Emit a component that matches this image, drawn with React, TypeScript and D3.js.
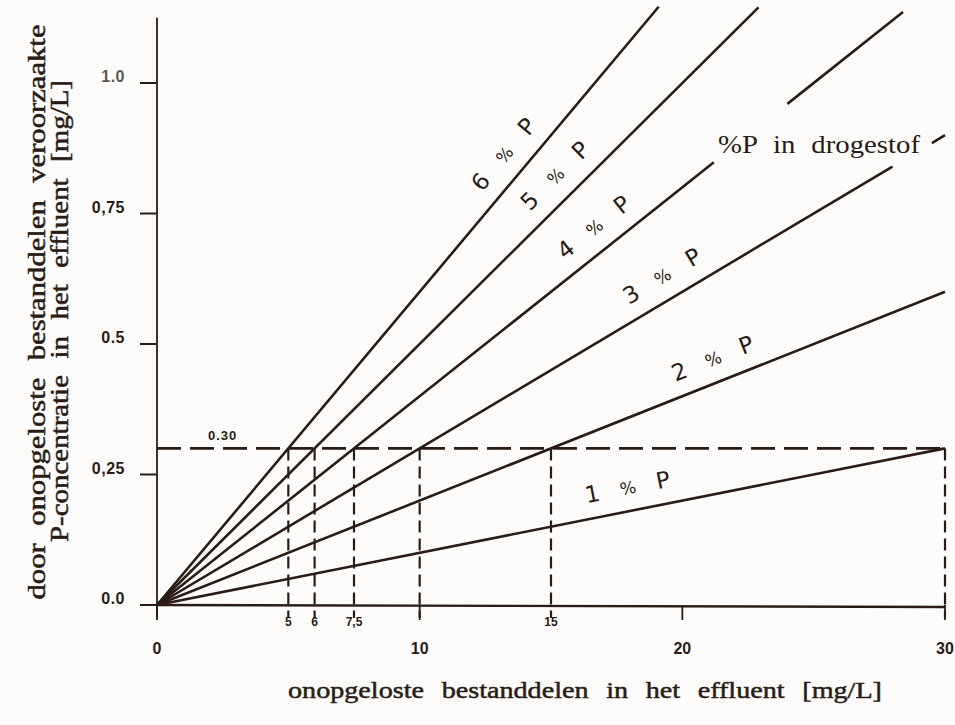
import React from "react";
import * as d3 from "d3";

// ---- data ----
const xTicks = [0, 10, 20, 30];
const xTickLabels = ["0", "10", "20", "30"];
const yTicks = [0, 0.25, 0.5, 0.75, 1.0];
const yTickLabels = ["0.0", "0,25", "0.5", "0,75", "1.0"];
const percents = [1, 2, 3, 4, 5, 6];
const lineEndX = [30, 30, 28.0, 21.2, 22.9, 19.1];
const labelCenterX = [18.1, 21.5, 19.7, 17.2, 15.8, 13.9];
const extraSegPct = [4, 3];
const extraSegStart = [24.0, 29.5];
const extraSegEnd = [28.4, 30.0];
const refConcentration = 0.3;
const refX = [5, 6, 7.5, 10, 15, 30];
const refXLabels = ["5", "6", "7,5", "", "15", ""];
const refYLabel = "0.30";
const yTitle1 = "door onopgeloste bestanddelen veroorzaakte";
const yTitle2 = "P-concentratie in het effluent [mg/L]";
const xTitle = "onopgeloste bestanddelen in het effluent [mg/L]";
const legendNote = "%P in drogestof";

const INK = "#2a1c15";
const W = 955;
const H = 725;

export default function App() {
  const x = d3.scaleLinear().domain([0, 30]).range([157, 945]);
  const y = d3.scaleLinear().domain([0, 1]).range([605, 83]);
  const line = d3
    .line<[number, number]>()
    .x((d) => x(d[0]))
    .y((d) => y(d[1]));

  const sans = "'Liberation Sans', Arial, sans-serif";
  const serif = "'Liberation Serif', 'Times New Roman', serif";
  const hand = "'DejaVu Sans', sans-serif";

  return (
    <div style={{ position: "absolute", left: 0, top: 0 }}>
      <svg width={W} height={H} viewBox={`0 0 ${W} ${H}`} style={{ display: "block", background: "#fdfcfa" }}>
        <rect x={0} y={0} width={W} height={H} fill="#fdfcfa" />

        {/* y axis */}
        <line x1={x(0)} x2={x(0)} y1={y(1.125)} y2={y(-0.025)} stroke={INK} strokeWidth={1.8} />
        {yTicks.map((t, i) => (
          <g key={"yt" + i}>
            <line x1={x(0) - 17} x2={x(0)} y1={y(t)} y2={y(t)} stroke={INK} strokeWidth={2} />
            <text
              x={x(0) - 32}
              y={y(t) - 1}
              textAnchor="end"
              fontFamily={sans}
              fontWeight="bold"
              fontSize={16}
              letterSpacing={0.5}
              fill={INK}
              opacity={t === 1 ? 0.75 : 1}
            >
              {yTickLabels[i]}
            </text>
          </g>
        ))}

        {/* x axis */}
        <line x1={x(0)} x2={x(30)} y1={y(0)} y2={y(0) + 2} stroke={INK} strokeWidth={2.4} />
        {xTicks.map((t, i) => (
          <g key={"xt" + i}>
            <line x1={x(t)} x2={x(t)} y1={y(0)} y2={y(0) + 15} stroke={INK} strokeWidth={1.8} />
            <text
              x={x(t)}
              y={y(0) + 49}
              textAnchor="middle"
              fontFamily={sans}
              fontWeight="bold"
              fontSize={16}
              fill={INK}
            >
              {xTickLabels[i]}
            </text>
          </g>
        ))}

        {/* reference dashed lines */}
        <line
          x1={x(0)}
          x2={x(30)}
          y1={y(refConcentration)}
          y2={y(refConcentration)}
          stroke={INK}
          strokeWidth={2.8}
          strokeDasharray="24 9"
        />
        <text x={x(2.5)} y={y(refConcentration) - 8} textAnchor="middle" fontFamily={sans} fontWeight="bold" fontSize={13} fill={INK} letterSpacing={1}>
          {refYLabel}
        </text>
        {refX.map((v, i) => (
          <g key={"rx" + i}>
            <line
              x1={x(v)}
              x2={x(v)}
              y1={y(refConcentration)}
              y2={y(-0.025)}
              stroke={INK}
              strokeWidth={2.2}
              strokeDasharray="12 6"
            />
            {refXLabels[i] && (
              <text x={x(v)} y={y(0) + 21} textAnchor="middle" fontFamily={sans} fontWeight="bold" fontSize={12} fill={INK}>
                {refXLabels[i]}
              </text>
            )}
          </g>
        ))}

        {/* percentage lines */}
        {percents.map((p, i) => (
          <path
            key={"l" + p}
            d={line([
              [0, 0],
              [lineEndX[i], (p / 100) * lineEndX[i]],
            ]) as string}
            fill="none"
            stroke={INK}
            strokeWidth={2.6}
          />
        ))}
        {extraSegPct.map((p, i) => (
          <path
            key={"e" + i}
            d={line([
              [extraSegStart[i], (p / 100) * extraSegStart[i]],
              [extraSegEnd[i], (p / 100) * extraSegEnd[i]],
            ]) as string}
            fill="none"
            stroke={INK}
            strokeWidth={2.6}
          />
        ))}

        {/* line labels */}
        {percents.map((p, i) => {
          const cx = labelCenterX[i];
          const px = x(cx);
          const py = y((p / 100) * cx);
          const ang = (Math.atan2(y(p / 100) - y(0), x(1) - x(0)) * 180) / Math.PI;
          return (
            <g key={"lab" + p} transform={`translate(${px},${py}) rotate(${ang})`} fill={INK} fontFamily={hand}>
              <text x={-36} y={-16} textAnchor="middle" fontSize={23}>
                {String(p)}
              </text>
              <text x={0} y={-17} textAnchor="middle" fontSize={17}>
                %
              </text>
              <text x={36} y={-16} textAnchor="middle" fontSize={23}>
                P
              </text>
            </g>
          );
        })}

        {/* note */}
        <text
          x={718}
          y={153}
          fontFamily={serif}
          fontSize={26}
          wordSpacing={8}
          textLength={202}
          lengthAdjust="spacingAndGlyphs"
          fill={INK}
        >
          {legendNote}
        </text>

        {/* axis titles */}
        <text
          transform={`translate(45,312) rotate(-90)`}
          textAnchor="middle"
          fontFamily={serif}
          fontSize={25}
          wordSpacing={8}
          textLength={575}
          lengthAdjust="spacingAndGlyphs"
          fill={INK}
          stroke={INK}
          strokeWidth={0.5}
        >
          {yTitle1}
        </text>
        <text
          transform={`translate(68,311) rotate(-90)`}
          textAnchor="middle"
          fontFamily={serif}
          fontSize={25}
          wordSpacing={8}
          textLength={462}
          lengthAdjust="spacingAndGlyphs"
          fill={INK}
          stroke={INK}
          strokeWidth={0.5}
        >
          {yTitle2}
        </text>
        <text
          x={288}
          y={698}
          fontFamily={serif}
          fontSize={24}
          wordSpacing={9}
          textLength={594}
          lengthAdjust="spacingAndGlyphs"
          fill={INK}
          stroke={INK}
          strokeWidth={0.5}
        >
          {xTitle}
        </text>
      </svg>
    </div>
  );
}
